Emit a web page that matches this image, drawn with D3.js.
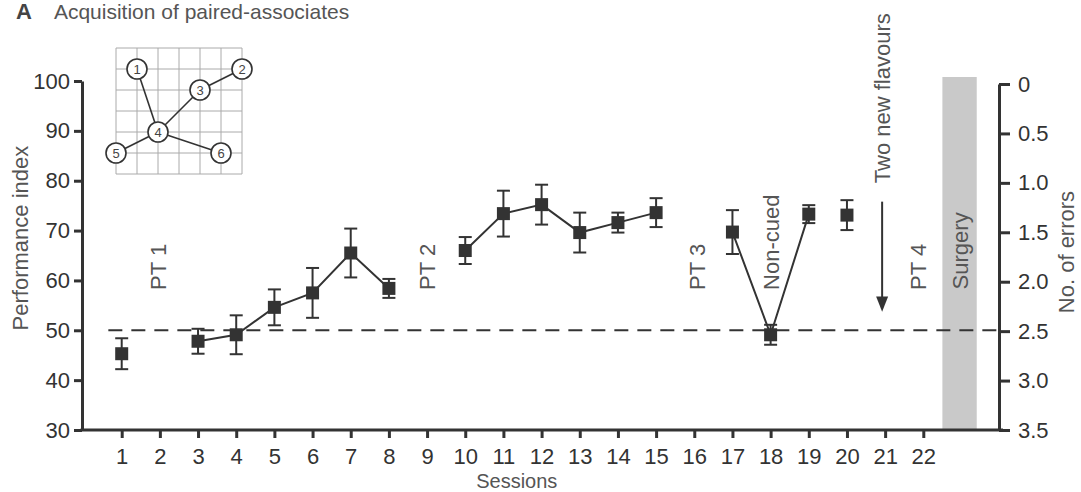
<!DOCTYPE html>
<html>
<head>
<meta charset="utf-8">
<script src="https://cdn.jsdelivr.net/npm/d3@7"></script>
<style>
  html, body { margin: 0; padding: 0; background: #fff; }
  svg { display: block; font-family: "Liberation Sans", Arial, Helvetica, sans-serif; }
</style>
</head>
<body>
<svg id="chart" width="1081" height="492"></svg>
<script>
// Sessions shown on the x axis
const sessions = d3.range(1, 23);
// Mean performance index per session (null = probe / no acquisition point)
const performance = [45.3, null, 47.8, 49.1, 54.6, 57.5, 65.5, 58.4, null, 66.0, 73.4,
                     75.2, 69.6, 71.6, 73.6, null, 69.7, 49.1, 73.3, 73.1, null, null];
// Standard error of the mean per session
const sem = [3.1, null, 2.5, 3.9, 3.6, 5.0, 4.9, 1.9, null, 2.7, 4.6,
             4.0, 4.0, 2.0, 2.9, null, 4.4, 2.0, 1.8, 3.0, null, null];
// Runs of sessions that are joined by a line
const connectedRuns = [[3, 4, 5, 6, 7, 8], [10, 11, 12, 13, 14, 15], [17, 18, 19]];
// Left and right axis tick values
const perfTicks = [30, 40, 50, 60, 70, 80, 90, 100];
const errorTicks = [0, 0.5, 1.0, 1.5, 2.0, 2.5, 3.0, 3.5];
// Probe-test labels and other session annotations
const probeLabels = [
  { session: 1.95, text: "PT 1" },
  { session: 9.0, text: "PT 2" },
  { session: 16.08, text: "PT 3" },
  { session: 18.0, text: "Non-cued" },
  { session: 21.85, text: "PT 4" }
];
// Inset: event-arena layout on a 6x6 grid (column, row)
const wells = [
  { id: 1, col: 1, row: 1 }, { id: 2, col: 6, row: 1 }, { id: 3, col: 4, row: 2 },
  { id: 4, col: 2, row: 4 }, { id: 5, col: 0, row: 5 }, { id: 6, col: 5, row: 5 }
];
const wellLinks = [[1, 4], [4, 3], [3, 2], [4, 5], [4, 6]];

const ink = "#333";
const svg = d3.select("#chart");

const x = d3.scaleLinear().domain([1, 22]).range([121.7, 923.3]);
const y = d3.scaleLinear().domain([30, 100]).range([430, 81]);
const yErr = d3.scaleLinear().domain([0, 3.5]).range([84, 430]);

// Title
const title = svg.append("text").attr("x", 16).attr("y", 19)
  .attr("font-size", 21).attr("fill", "#555");
title.append("tspan").attr("font-weight", "bold").attr("font-size", 22).attr("fill", "#444").text("A");
title.append("tspan").attr("dx", 22).text("Acquisition of paired-associates");

// Surgery band
svg.append("rect")
  .attr("x", x(22.5)).attr("width", x(23.4) - x(22.5))
  .attr("y", y(100) - 4).attr("height", y(30) - y(100) + 4)
  .attr("fill", "#c9c9c9");
svg.append("text")
  .attr("transform", `translate(${x(22.95) + 8},${y(58.2)}) rotate(-90)`)
  .attr("font-size", 22).attr("fill", "#555").text("Surgery");

// Chance level
svg.append("line")
  .attr("x1", x(0.65)).attr("x2", 999)
  .attr("y1", y(50)).attr("y2", y(50))
  .attr("stroke", ink).attr("stroke-width", 2)
  .attr("stroke-dasharray", "14,9");

// Left axis
const gLeft = svg.append("g").attr("transform", "translate(82,0)")
  .call(d3.axisLeft(y).tickValues(perfTicks).tickSize(8).tickSizeOuter(0).tickPadding(4));
// Right axis
const gRight = svg.append("g").attr("transform", "translate(999,0)")
  .call(d3.axisRight(yErr).tickValues(errorTicks).tickSize(11).tickSizeOuter(0).tickPadding(8)
    .tickFormat(d => d === 0 ? "0" : d.toFixed(1)));
// Bottom axis
const gBottom = svg.append("g").attr("transform", "translate(0,430)")
  .call(d3.axisBottom(x).tickValues(sessions).tickSize(8).tickPadding(10));
gBottom.select(".domain").remove();
svg.append("line").attr("x1", 80.5).attr("x2", 1003)
  .attr("y1", 430).attr("y2", 430).attr("stroke", ink).attr("stroke-width", 3);

[gLeft, gRight, gBottom].forEach(g => {
  g.selectAll(".domain").attr("stroke", ink).attr("stroke-width", 3);
  g.selectAll(".tick line").attr("stroke", ink).attr("stroke-width", 3);
  g.selectAll(".tick text").attr("fill", ink).attr("font-size", 22)
    .attr("font-family", "Liberation Sans, Arial, sans-serif");
});

// Axis titles
svg.append("text")
  .attr("transform", `translate(28,${y(68.5)}) rotate(-90)`)
  .attr("text-anchor", "middle").attr("font-size", 22).attr("fill", "#555")
  .text("Performance index");
svg.append("text")
  .attr("transform", `translate(1074,${yErr(1.7)}) rotate(-90)`)
  .attr("text-anchor", "middle").attr("font-size", 22).attr("fill", "#555")
  .text("No. of errors");
svg.append("text")
  .attr("x", x(11.35)).attr("y", 488)
  .attr("text-anchor", "middle").attr("font-size", 20).attr("fill", "#555")
  .text("Sessions");

// Probe labels
probeLabels.forEach(p => {
  svg.append("text")
    .attr("transform", `translate(${x(p.session) + 8},${y(58.1)}) rotate(-90)`)
    .attr("font-size", 22).attr("fill", "#555").text(p.text);
});

// "Two new flavours" arrow
const arrowX = x(21) - 3;
svg.append("text")
  .attr("transform", `translate(${arrowX + 8},${y(79.5)}) rotate(-90)`)
  .attr("font-size", 22).attr("fill", "#555").text("Two new flavours");
svg.append("line")
  .attr("x1", arrowX).attr("x2", arrowX)
  .attr("y1", y(75.8)).attr("y2", y(56.5))
  .attr("stroke", ink).attr("stroke-width", 2);
svg.append("path")
  .attr("d", `M${arrowX - 6},${y(56.8)} L${arrowX + 6},${y(56.8)} L${arrowX},${y(53.7)} Z`)
  .attr("fill", ink);

// Data points
const points = sessions.map((s, i) => ({ s, v: performance[i], e: sem[i] }))
  .filter(d => d.v !== null);
const bySession = new Map(points.map(d => [d.s, d]));

const line = d3.line().x(d => x(d.s)).y(d => y(d.v));
connectedRuns.forEach(run => {
  svg.append("path").datum(run.map(s => bySession.get(s)))
    .attr("d", line).attr("fill", "none")
    .attr("stroke", ink).attr("stroke-width", 2);
});

const cap = 6.5;
const err = svg.append("g").attr("stroke", ink).attr("stroke-width", 2);
points.forEach(d => {
  err.append("line").attr("x1", x(d.s)).attr("x2", x(d.s))
    .attr("y1", y(d.v + d.e)).attr("y2", y(d.v - d.e));
  [d.v + d.e, d.v - d.e].forEach(v => {
    err.append("line").attr("x1", x(d.s) - cap).attr("x2", x(d.s) + cap)
      .attr("y1", y(v)).attr("y2", y(v));
  });
});

const m = 13;
svg.append("g").selectAll("rect").data(points).join("rect")
  .attr("x", d => x(d.s) - m / 2).attr("y", d => y(d.v) - m / 2)
  .attr("width", m).attr("height", m).attr("fill", ink);

// Inset arena
const cell = 21;
const gx = d3.scaleLinear().domain([0, 6]).range([116, 116 + 6 * cell]);
const gy = d3.scaleLinear().domain([0, 6]).range([48, 48 + 6 * cell]);
const inset = svg.append("g");
d3.range(7).forEach(i => {
  inset.append("line").attr("x1", gx(i)).attr("x2", gx(i)).attr("y1", gy(0)).attr("y2", gy(6))
    .attr("stroke", "#aaa").attr("stroke-width", 1);
  inset.append("line").attr("x1", gx(0)).attr("x2", gx(6)).attr("y1", gy(i)).attr("y2", gy(i))
    .attr("stroke", "#aaa").attr("stroke-width", 1);
});
const wellById = new Map(wells.map(w => [w.id, w]));
wellLinks.forEach(([a, b]) => {
  const wa = wellById.get(a), wb = wellById.get(b);
  inset.append("line")
    .attr("x1", gx(wa.col)).attr("y1", gy(wa.row))
    .attr("x2", gx(wb.col)).attr("y2", gy(wb.row))
    .attr("stroke", ink).attr("stroke-width", 1.6);
});
wells.forEach(w => {
  inset.append("circle").attr("cx", gx(w.col)).attr("cy", gy(w.row)).attr("r", 10)
    .attr("fill", "#fff").attr("stroke", ink).attr("stroke-width", 1.6);
  inset.append("text").attr("x", gx(w.col)).attr("y", gy(w.row) + 4.5)
    .attr("text-anchor", "middle").attr("font-size", 13).attr("fill", "#444").text(w.id);
});
</script>
</body>
</html>
